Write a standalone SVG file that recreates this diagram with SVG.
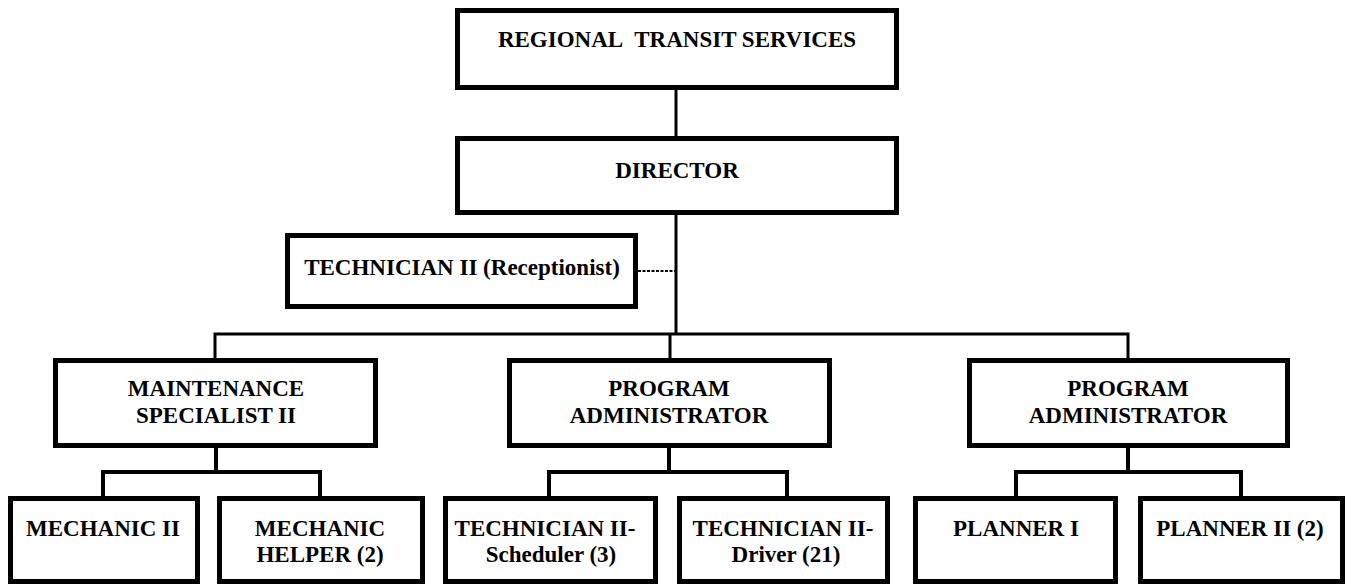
<svg xmlns="http://www.w3.org/2000/svg" width="1347" height="584" viewBox="0 0 1347 584">
  <style>
    .box { fill: #ffffff; stroke: #000000; stroke-width: 5; }
    .lbl { font-family: "Liberation Serif", "Times New Roman", serif; font-weight: bold; font-size: 23px; fill: #000000; text-anchor: middle; }
    .wire { fill: none; stroke: #000000; stroke-width: 3; }
    .wire2 { fill: none; stroke: #000000; stroke-width: 4; }
    .dot { fill: none; stroke: #000000; stroke-width: 2; stroke-dasharray: 3 1.5; }
  </style>
  <rect x="0" y="0" width="1347" height="584" fill="#ffffff"/>

  <!-- connectors -->
  <g id="connectors">
    <line class="wire" x1="676" y1="90" x2="676" y2="136"/>
    <line class="wire" x1="676" y1="215" x2="676" y2="335"/>
    <line class="dot" x1="638" y1="271" x2="676" y2="271"/>
    <polyline class="wire" points="215,358 215,334 1128,334 1128,358"/>
    <line class="wire" x1="670" y1="334" x2="670" y2="358"/>

    <line class="wire2" x1="216" y1="448" x2="216" y2="472"/>
    <polyline class="wire2" points="103,496 103,472 320,472 320,496"/>

    <line class="wire2" x1="669" y1="448" x2="669" y2="472"/>
    <polyline class="wire2" points="549,496 549,472 787,472 787,496"/>

    <line class="wire2" x1="1128" y1="448" x2="1128" y2="472"/>
    <polyline class="wire2" points="1016,496 1016,472 1241,472 1241,496"/>
  </g>

  <g id="regional-transit">
    <rect class="box" x="457.5" y="10.5" width="439" height="77"/>
    <text class="lbl" x="677" y="47">REGIONAL&#160; TRANSIT SERVICES</text>
  </g>

  <g id="director">
    <rect class="box" x="457.5" y="138.5" width="439" height="74"/>
    <text class="lbl" x="677" y="178">DIRECTOR</text>
  </g>

  <g id="receptionist">
    <rect class="box" x="287.5" y="235.5" width="348" height="71"/>
    <text class="lbl" x="462" y="275">TECHNICIAN II (Receptionist)</text>
  </g>

  <g id="maintenance-specialist">
    <rect class="box" x="55.5" y="360.5" width="320" height="85"/>
    <text class="lbl" x="216" y="396">MAINTENANCE</text>
    <text class="lbl" x="216" y="423">SPECIALIST II</text>
  </g>

  <g id="program-admin-1">
    <rect class="box" x="509.5" y="360.5" width="320" height="85"/>
    <text class="lbl" x="669" y="396">PROGRAM</text>
    <text class="lbl" x="669" y="423">ADMINISTRATOR</text>
  </g>

  <g id="program-admin-2">
    <rect class="box" x="969.5" y="360.5" width="318" height="85"/>
    <text class="lbl" x="1128" y="396">PROGRAM</text>
    <text class="lbl" x="1128" y="423">ADMINISTRATOR</text>
  </g>

  <g id="mechanic-2">
    <rect class="box" x="10.5" y="498.5" width="187" height="83"/>
    <text class="lbl" x="103" y="536">MECHANIC II</text>
  </g>

  <g id="mechanic-helper">
    <rect class="box" x="219.5" y="498.5" width="203" height="83"/>
    <text class="lbl" x="320" y="536">MECHANIC</text>
    <text class="lbl" x="320" y="562">HELPER (2)</text>
  </g>

  <g id="tech-scheduler">
    <rect class="box" x="445.5" y="498.5" width="210" height="83"/>
    <text class="lbl" x="545" y="536">TECHNICIAN II-</text>
    <text class="lbl" x="551" y="562">Scheduler (3)</text>
  </g>

  <g id="tech-driver">
    <rect class="box" x="679.5" y="498.5" width="208" height="83"/>
    <text class="lbl" x="783" y="536">TECHNICIAN II-</text>
    <text class="lbl" x="786" y="562">Driver (21)</text>
  </g>

  <g id="planner-1">
    <rect class="box" x="915.5" y="498.5" width="200" height="83"/>
    <text class="lbl" x="1016" y="536">PLANNER I</text>
  </g>

  <g id="planner-2">
    <rect class="box" x="1140.5" y="498.5" width="202" height="83"/>
    <text class="lbl" x="1240" y="536">PLANNER II (2)</text>
  </g>
</svg>
